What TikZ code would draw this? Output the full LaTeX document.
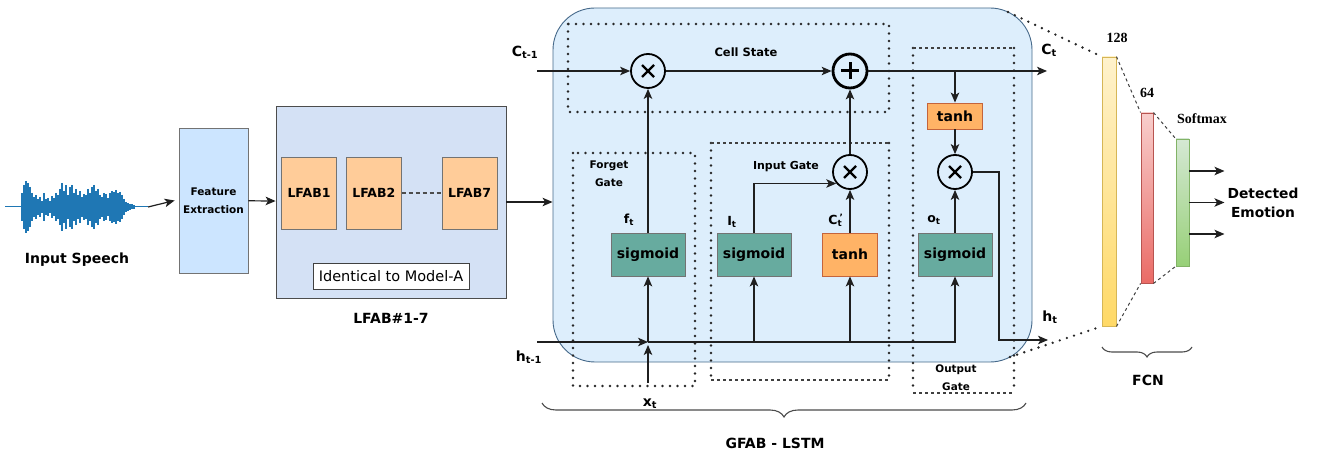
\documentclass[tikz,border=0pt]{standalone}
\usepackage{fontspec}
\setmainfont{DejaVu Sans}
\newfontfamily\numfont{Liberation Serif}
\usetikzlibrary{arrows.meta}
\usetikzlibrary{positioning}
\usetikzlibrary{decorations.pathreplacing}

\definecolor{wavecol}{HTML}{1F77B4}
\definecolor{featfill}{HTML}{CCE5FF}
\definecolor{lfabfill}{HTML}{D4E1F5}
\definecolor{blockfill}{HTML}{FFCC99}
\definecolor{lstmfill}{HTML}{DDEEFC}
\definecolor{lstmline}{HTML}{46698A}
\definecolor{sigfill}{HTML}{67AB9F}
\definecolor{tanhfill}{HTML}{FFB366}
\definecolor{tanhline}{HTML}{C4643C}
\definecolor{ytop}{HTML}{FFF2CC}
\definecolor{ybot}{HTML}{FFD966}
\definecolor{yline}{HTML}{D6B656}
\definecolor{rtop}{HTML}{F8CECC}
\definecolor{rbot}{HTML}{EA6B66}
\definecolor{rline}{HTML}{B85450}
\definecolor{gtop}{HTML}{D5E8D4}
\definecolor{gbot}{HTML}{97D077}
\definecolor{gline}{HTML}{82B366}

\newcommand{\fsz}[2]{\fontsize{#1}{#2}\selectfont}

\tikzset{
  arr/.style={-{Stealth[length=10pt, width=8.5pt, inset=2.5pt]}, line width=1.2pt, draw=black!88},
  wavebar/.style={draw=wavecol, line width=2.4pt},
  featbox/.style={draw=black!55, fill=featfill, line width=0.8pt, minimum width=69, minimum height=145, inner sep=0, align=center, font=\bfseries\fsz{10.5}{18}},
  lfabouter/.style={draw=black!70, fill=lfabfill, line width=0.8pt, minimum width=230, minimum height=192, inner sep=0},
  lfabbox/.style={draw=black!55, fill=blockfill, line width=0.8pt, minimum width=55, minimum height=72, inner sep=0, font=\bfseries\fsz{12.5}{15}},
  identbox/.style={draw=black!75, fill=white, line width=0.8pt, minimum width=156, minimum height=26, inner sep=0, font=\fsz{14.5}{16}},
  lstmbox/.style={draw=lstmline, fill=lstmfill, line width=0.9pt, rounded corners=42, minimum width=479, minimum height=354, inner sep=0},
  opnode/.style={circle, draw=black, line width=1.8pt, minimum size=34, inner sep=0,
    path picture={\draw[line width=2.2pt] (path picture bounding box.center) +(-6,-6) -- +(6,6) +(-6,6) -- +(6,-6);}},
  plusnode/.style={circle, draw=black, line width=2.8pt, minimum size=34, inner sep=0,
    path picture={\draw[line width=3pt] (path picture bounding box.center) +(-9,0) -- +(9,0) +(0,-8.5) -- +(0,8.5);}},
  sigbox/.style={draw=black!55, fill=sigfill, line width=0.9pt, minimum width=74, minimum height=43, inner sep=0, font=\bfseries\fsz{14}{16}},
  tanhbox/.style={draw=tanhline, fill=tanhfill, line width=0.9pt, minimum width=55, minimum height=43, inner sep=0, font=\bfseries\fsz{14}{16}},
  lbl/.style={font=\bfseries\fsz{14}{16}, inner sep=0},
  sublbl/.style={font=\bfseries\fsz{12.5}{15}, inner sep=0},
  gatelbl/.style={font=\bfseries\fsz{10.5}{18}, align=center, inner sep=0},
  dotbox/.style={line width=2.6pt, dash pattern=on 0pt off 7.5pt, line cap=round, draw=black!85},
  dashedge/.style={line width=1.2pt, dash pattern=on 3pt off 3pt, draw=black!75},
  fcnbar/.style={line width=0.9pt, inner sep=0},
  numlbl/.style={font=\numfont\bfseries\fsz{14}{16}, inner sep=0},
  fcnlink/.style={line width=1pt, dash pattern=on 3pt off 3pt, draw=black!75},
  gbrace/.style={decorate, decoration={brace, mirror, amplitude=14pt}, line width=1.1pt, draw=black!70}
}

\begin{document}
\begin{tikzpicture}[x=1pt,y=-1pt]
  \useasboundingbox (0,0) rectangle (1322,454);

  % input speech
  \draw[wavecol, line width=1pt] (5,207) -- (148,207);
  \foreach \x/\a in {22/14,24/22,26/26,28/24,30/20,32/14,34/10,36/12,38/8,40/10,42/6,44/14,
      46/8,48/9,50/6,52/11,54/9,56/14,58/12,60/18,62/24,64/16,66/22,68/12,70/20,72/22,74/14,
      76/18,78/12,80/16,82/10,84/13,86/12,88/18,90/14,92/20,94/22,96/16,98/18,100/12,102/10,
      104/14,106/13,108/9,110/14,112/16,114/15,116/17,118/14,120/15,122/12,124/8,126/5,
      128/4,130/3,132/2.5,134/2}
    \draw[wavebar] (\x,207-\a) -- (\x,207+\a);
  \coordinate (wavend) at (148,207);
  \node[lbl] (speech) at (77,260) {Input Speech};

  % feature extraction and LFAB stack
  \node[featbox] (feat) at (213.5,200.5) {Feature\\Extraction};
  \node[lfabouter] (lfab) at (391,202) {};
  \node[lfabbox] (l1) at (309,193) {LFAB1};
  \node[lfabbox, right=9pt of l1] (l2) {LFAB2};
  \node[lfabbox, right=40pt of l2] (l7) {LFAB7};
  \draw[dash pattern=on 4pt off 3pt, line width=1.3pt, draw=black!70] (l2) -- (l7);
  \node[identbox] (ident) at (391,276) {Identical to Model-A};
  \node[lbl] (lfablbl) at (391,318) {LFAB\#1-7};

  \draw[arr] (wavend) -- ([xshift=-4pt]feat.west);
  \draw[arr] (feat) -- (lfab);

  % GFAB - LSTM cell
  \node[lstmbox] (lstm) at (792.5,185) {};
  \draw[arr] (lfab.east) -- (lfab.east -| lstm.west);

  \draw[dotbox] (568,24) rectangle (889,112);
  \draw[dotbox] (573,153) rectangle (695,386);
  \draw[dotbox] (711,143) -- (711,380) (889,143) -- (889,380);
  \draw[dashedge] (711,143) -- (889,143) (711,380) -- (889,380);
  \draw[dotbox] (913,48) -- (913,393) (1014,48) -- (1014,393);
  \draw[dashedge] (913,48) -- (1014,48) (913,393) -- (1014,393);

  \node[font=\bfseries\fsz{11.5}{14}] (cellstate) at (746,52) {Cell State};
  \node[gatelbl] (forgetlbl) at (609,174) {Forget\\Gate};
  \node[font=\bfseries\fsz{11}{14}] (inputlbl) at (786,167) {Input Gate};
  \node[gatelbl, font=\bfseries\fsz{10.4}{18}] (outputlbl) at (956,378) {Output\\Gate};

  \node[opnode] (m1) at (648,71) {};
  \node[plusnode] (plus) at (850,71) {};
  \node[opnode] (m2) at (850,172) {};
  \node[opnode] (m3) at (955,172) {};
  \node[tanhbox, minimum height=26] (tanh1) at (955,116) {tanh};

  \node[sigbox] (sig1) at (648,254.5) {sigmoid};
  \node[sigbox] (sig2) at (754,254.5) {sigmoid};
  \node[tanhbox] (tanh2) at (850,254.5) {tanh};
  \node[sigbox] (sig3) at (955,254.5) {sigmoid};

  \node[sublbl] (ft) at (629,220) {f\textsubscript{t}};
  \node[sublbl] (it) at (732,222) {I\textsubscript{t}};
  \node[sublbl] (ctp) at (836,220) {C\textsubscript{t}\textsuperscript{\kern-0.3em'}};
  \node[sublbl] (ot) at (934,220) {o\textsubscript{t}};

  \coordinate (ct1) at (537,71);
  \coordinate (ctend) at (1047,71);
  \coordinate (ht1) at (537,342);
  \coordinate (junc) at (648,342);
  \coordinate (xt) at (648,383);
  \coordinate (hturn) at (999,340);
  \coordinate (htend) at (1048,340);

  \node[lbl] (ct1lbl) at (525,52) {C\textsubscript{t-1}};
  \node[lbl] (ctlbl) at (1049,50) {C\textsubscript{t}};
  \node[lbl] (ht1lbl) at (529,357) {h\textsubscript{t-1}};
  \node[lbl] (htlbl) at (1050,317) {h\textsubscript{t}};
  \node[lbl] (xtlbl) at (650,404) {x\textsubscript{t}};

  \draw[arr] (ct1) -- (m1);
  \draw[arr] (m1) -- (plus);
  \draw[arr] (plus) -- (ctend);
  \draw[arr] (tanh1 |- ctend) -- (tanh1);
  \draw[arr] (tanh1) -- (m3);
  \draw[arr] (sig1) -- (m1);
  \draw[arr] (sig2.north) |- (m2.220);
  \draw[arr] (tanh2) -- (m2);
  \draw[arr] (m2) -- (plus);
  \draw[arr] (sig3) -- (m3);
  \draw[arr] (m3) -| (hturn) -- (htend);

  \draw[arr] (ht1) -- (junc);
  \draw[arr] (xt) -- ([yshift=-3pt]junc);
  \draw[arr] (junc) -- (sig1);
  \draw[arr] (junc) -| (sig3);
  \draw[arr] (sig2 |- junc) -- (sig2);
  \draw[arr] (tanh2 |- junc) -- (tanh2);

  \draw[gbrace] (542,403) -- (1026,403);
  \node[lbl] (gfablbl) at (775,443) {GFAB - LSTM};

  % FCN
  \node[fcnbar, draw=yline, top color=ytop, bottom color=ybot, minimum width=14, minimum height=269] (b128) at (1109,191.5) {};
  \node[fcnbar, draw=rline, top color=rtop, bottom color=rbot, minimum width=12, minimum height=170] (b64) at (1147,198) {};
  \node[fcnbar, draw=gline, top color=gtop, bottom color=gbot, minimum width=13, minimum height=127] (bsm) at (1182.5,202.5) {};
  \node[numlbl] (n128) at (1117,38) {128};
  \node[numlbl] (n64) at (1147,93) {64};
  \node[numlbl] (nsm) at (1202,119) {Softmax};

  \coordinate (lstmtr) at (1008,12);
  \coordinate (lstmbr) at (1010,357);
  \draw[dotbox] (lstmtr) -- (b128.north west);
  \draw[dotbox] (lstmbr) -- (b128.south west);
  \draw[fcnlink] (b128.north east) -- (b64.north west);
  \draw[fcnlink] (b64.north east) -- (bsm.north west);
  \draw[fcnlink] (b128.south east) -- (b64.south west);
  \draw[fcnlink] (b64.south east) -- (bsm.south west);

  \foreach \dy in {31.5,0,-31.5}
    \draw[arr] ([yshift=\dy pt]bsm.east) -- ++(35,0);
  \node[lbl, align=center, font=\bfseries\fsz{13.8}{19}] (emotion) at (1263,203) {Detected\\Emotion};

  \draw[gbrace, decoration={amplitude=10pt}] (1102,347) -- (1192,347);
  \node[lbl] (fcnlbl) at (1148,380) {FCN};
\end{tikzpicture}
\end{document}
